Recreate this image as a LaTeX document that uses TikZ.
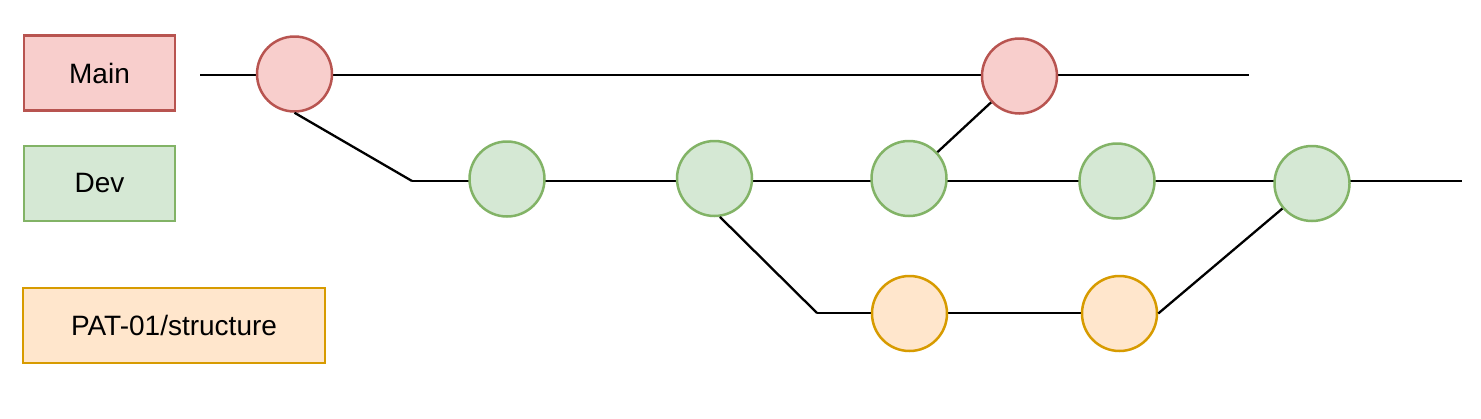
\documentclass[tikz,border=0pt]{standalone}
\usepackage{fontspec}
\setmainfont{Liberation Sans}
\usetikzlibrary{backgrounds}
\definecolor{redfill}{HTML}{F8CECC}
\definecolor{redline}{HTML}{B85450}
\definecolor{greenfill}{HTML}{D5E8D4}
\definecolor{greenline}{HTML}{82B366}
\definecolor{orangefill}{HTML}{FFE6CC}
\definecolor{orangeline}{HTML}{D79B00}
\begin{document}
\begin{tikzpicture}[x=1pt,y=-1pt,
  lbl/.style={rectangle, draw, line width=2.2pt, minimum height=75pt, inner sep=0pt, font=\fontsize{28}{34}\selectfont},
  commit/.style={circle, draw, line width=2.5pt, minimum size=75pt, inner sep=0pt},
  redc/.style={fill=redfill, draw=redline},
  greenc/.style={fill=greenfill, draw=greenline},
  orangec/.style={fill=orangefill, draw=orangeline},
  branch/.style={line width=2.3pt, black}]
\useasboundingbox (0,0) rectangle (1481,418);
% labels
\node[lbl, redc, minimum width=151pt] (lmain) at (99.5,73) {Main};
\node[lbl, greenc, minimum width=151pt] (ldev) at (99.5,183.5) {Dev};
\node[lbl, orangec, minimum width=302pt] (lpat) at (174,325.5) {PAT-01/structure};
% commits
\node[commit, redc] (m1) at (294.5,74) {};
\node[commit, redc] (m2) at (1019.5,76) {};
\node[commit, greenc] (d1) at (507,179) {};
\node[commit, greenc] (d2) at (714.5,178.5) {};
\node[commit, greenc] (d3) at (909,178.5) {};
\node[commit, greenc] (d4) at (1117,181) {};
\node[commit, greenc] (d5) at (1312,183.5) {};
\node[commit, orangec] (o1) at (909.5,313.5) {};
\node[commit, orangec] (o2) at (1119.5,313.5) {};
% free ends and bends
\coordinate (mstart) at (200,75);
\coordinate (mend) at (1249,75);
\coordinate (b1) at (412,181);
\coordinate (dend) at (1462,181);
\coordinate (b2) at (817,313);
\begin{pgfonlayer}{background}
\draw[branch] (mstart) -- (mend);
\draw[branch] (b1) -- (dend);
\draw[branch] (b2) -- (o2.center |- b2);
\end{pgfonlayer}
\draw[branch] (m1.south) -- (b1);
\draw[branch] (d3) -- (m2);
\draw[branch] (d2.-82) -- (b2);
\draw[branch] (o2.east) -- (d5);
\end{tikzpicture}
\end{document}
